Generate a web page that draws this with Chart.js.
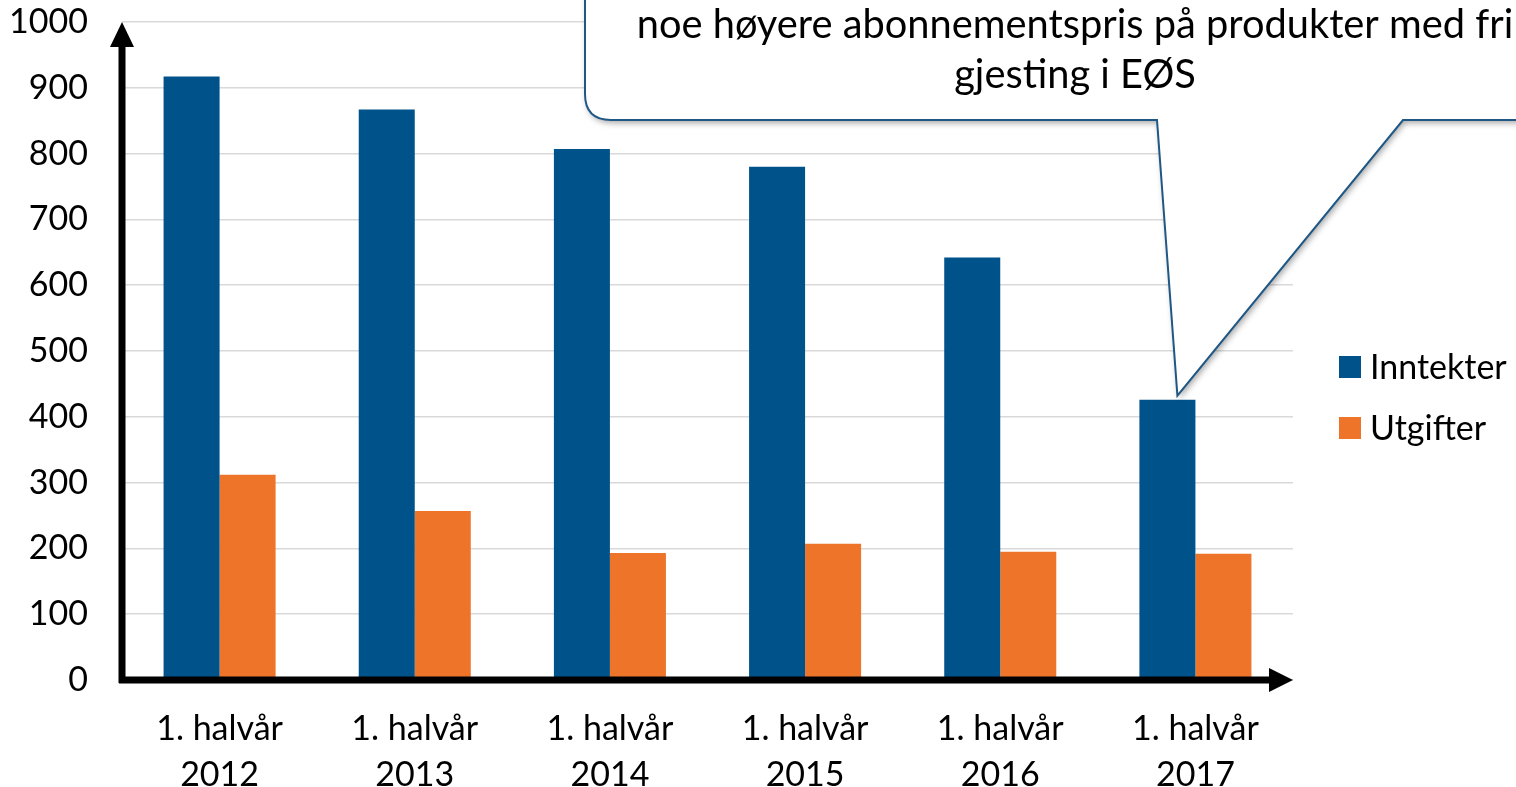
<!DOCTYPE html>
<html>
<head>
<meta charset="utf-8">
<script src="https://cdn.jsdelivr.net/npm/chart.js@4.4.1/dist/chart.umd.min.js"></script>
<style>
  html, body { margin: 0; padding: 0; background: #fff; }
  #wrap { width: 1516px; height: 787px; position: relative; }
</style>
</head>
<body>
<div id="wrap"><canvas id="chart"></canvas></div>
<script>
    // data
    const categories = [
        ['1. halvår', '2012'], ['1. halvår', '2013'], ['1. halvår', '2014'],
        ['1. halvår', '2015'], ['1. halvår', '2016'], ['1. halvår', '2017']
    ];
    const inntekter = [917, 867, 807, 780, 642, 426];
    const utgifter = [312, 257, 193, 207, 195, 192];
    const seriesNames = ['Inntekter', 'Utgifter'];
    const seriesColors = ['#00528A', '#ED7428'];
    const yTicks = [0, 100, 200, 300, 400, 500, 600, 700, 800, 900, 1000];
    const calloutLines = ['noe høyere abonnementspris på produkter med fri', 'gjesting i EØS'];

    const FONT = 'Lato, "Noto Sans", sans-serif';

    // ------------------------------------
    // black axes with arrow heads
    // ------------------------------------
    const arrowAxes = {
        id: 'arrowAxes',
        afterDatasetsDraw(chart) {
            const { ctx, chartArea: a } = chart;
            const y0 = chart.scales.y.getPixelForValue(0);
            ctx.save();
            ctx.fillStyle = '#000';
            ctx.strokeStyle = '#000';
            ctx.lineWidth = 7;
            // y axis
            ctx.beginPath();
            ctx.moveTo(a.left, y0 + 3);
            ctx.lineTo(a.left, a.top + 20);
            ctx.stroke();
            ctx.beginPath();
            ctx.moveTo(a.left, a.top);
            ctx.lineTo(a.left - 12, a.top + 25);
            ctx.lineTo(a.left + 12, a.top + 25);
            ctx.closePath();
            ctx.fill();
            // x axis
            ctx.beginPath();
            ctx.moveTo(a.left - 3, y0);
            ctx.lineTo(a.right - 20, y0);
            ctx.stroke();
            ctx.beginPath();
            ctx.moveTo(a.right, y0);
            ctx.lineTo(a.right - 24, y0 - 12);
            ctx.lineTo(a.right - 24, y0 + 12);
            ctx.closePath();
            ctx.fill();
            ctx.restore();
        }
    };

    // ------------------------------------
    // legend on the right
    // ------------------------------------
    const sideLegend = {
        id: 'sideLegend',
        afterDraw(chart) {
            const { ctx } = chart;
            ctx.save();
            ctx.font = '34px ' + FONT;
            ctx.textBaseline = 'middle';
            seriesNames.forEach((name, i) => {
                const cy = 367 + i * 61;
                ctx.fillStyle = seriesColors[i];
                ctx.fillRect(1339, cy - 11, 22, 22);
                ctx.fillStyle = '#000';
                ctx.fillText(name, 1370, cy + 1);
            });
            ctx.restore();
        }
    };

    // ------------------------------------
    // callout bubble pointing at the last bar
    // ------------------------------------
    const callout = {
        id: 'callout',
        afterDraw(chart) {
            const { ctx } = chart;
            const meta = chart.getDatasetMeta(0);
            const bar = meta.data[meta.data.length - 1];
            const tipX = bar.x + 10;
            const tipY = bar.y - 4;
            const left = 585, right = 1560, top = -60, bottom = 120, r = 26;
            const baseA = 1157, baseB = 1403;

            ctx.save();
            ctx.beginPath();
            ctx.moveTo(left, top);
            ctx.lineTo(left, bottom - r);
            ctx.quadraticCurveTo(left, bottom, left + r, bottom);
            ctx.lineTo(baseA, bottom);
            ctx.lineTo(tipX, tipY);
            ctx.lineTo(baseB, bottom);
            ctx.lineTo(right, bottom);
            ctx.lineTo(right, top);
            ctx.closePath();
            ctx.fillStyle = '#fff';
            ctx.shadowColor = 'rgba(0,0,0,0.35)';
            ctx.shadowBlur = 6;
            ctx.shadowOffsetX = 2;
            ctx.shadowOffsetY = 3;
            ctx.fill();
            ctx.shadowColor = 'transparent';
            ctx.strokeStyle = '#1F5785';
            ctx.lineWidth = 2;
            ctx.stroke();

            // fit the first line to the width it has in the picture
            let size = 34;
            ctx.font = size + 'px ' + FONT;
            size = size * 876 / ctx.measureText(calloutLines[0]).width;
            ctx.font = size.toFixed(1) + 'px ' + FONT;
            ctx.fillStyle = '#000';
            ctx.textAlign = 'center';
            ctx.textBaseline = 'middle';
            calloutLines.forEach((t, i) => ctx.fillText(t, 1075, 25 + i * 50));
            ctx.restore();
        }
    };

    new Chart(document.getElementById('chart'), {
        type: 'bar',
        data: {
            labels: categories,
            datasets: [
                { label: seriesNames[0], data: inntekter, backgroundColor: seriesColors[0] },
                { label: seriesNames[1], data: utgifter, backgroundColor: seriesColors[1] }
            ]
        },
        options: {
            responsive: true,
            maintainAspectRatio: false,
            animation: false,
            layout: { padding: { top: 22, right: 223, left: 0, bottom: 0 } },
            plugins: {
                legend: { display: false },
                tooltip: { enabled: false }
            },
            datasets: {
                bar: { categoryPercentage: 0.574, barPercentage: 1.0 }
            },
            scales: {
                x: {
                    grid: { display: false },
                    border: { display: false },
                    ticks: {
                        color: '#000',
                        font: { family: FONT, size: 34, lineHeight: 1.35 },
                        padding: 18,
                        maxRotation: 0
                    },
                    afterFit(scale) { scale.height = 107; }
                },
                y: {
                    min: 0,
                    max: 1000,
                    afterBuildTicks(scale) { scale.ticks = yTicks.map(v => ({ value: v })); },
                    // invisible tick marks push the labels left without padding the top
                    grid: { color: '#D9D9D9', lineWidth: 1.5, drawTicks: true, tickLength: 34, tickColor: 'rgba(0,0,0,0)' },
                    border: { display: false },
                    ticks: {
                        color: '#000',
                        font: { family: FONT, size: 34 },
                        padding: 0,
                        callback: v => String(v)
                    },
                    afterFit(scale) { scale.width = 122; }
                }
            }
        },
        plugins: [arrowAxes, sideLegend, callout]
    });
</script>
</body>
</html>
